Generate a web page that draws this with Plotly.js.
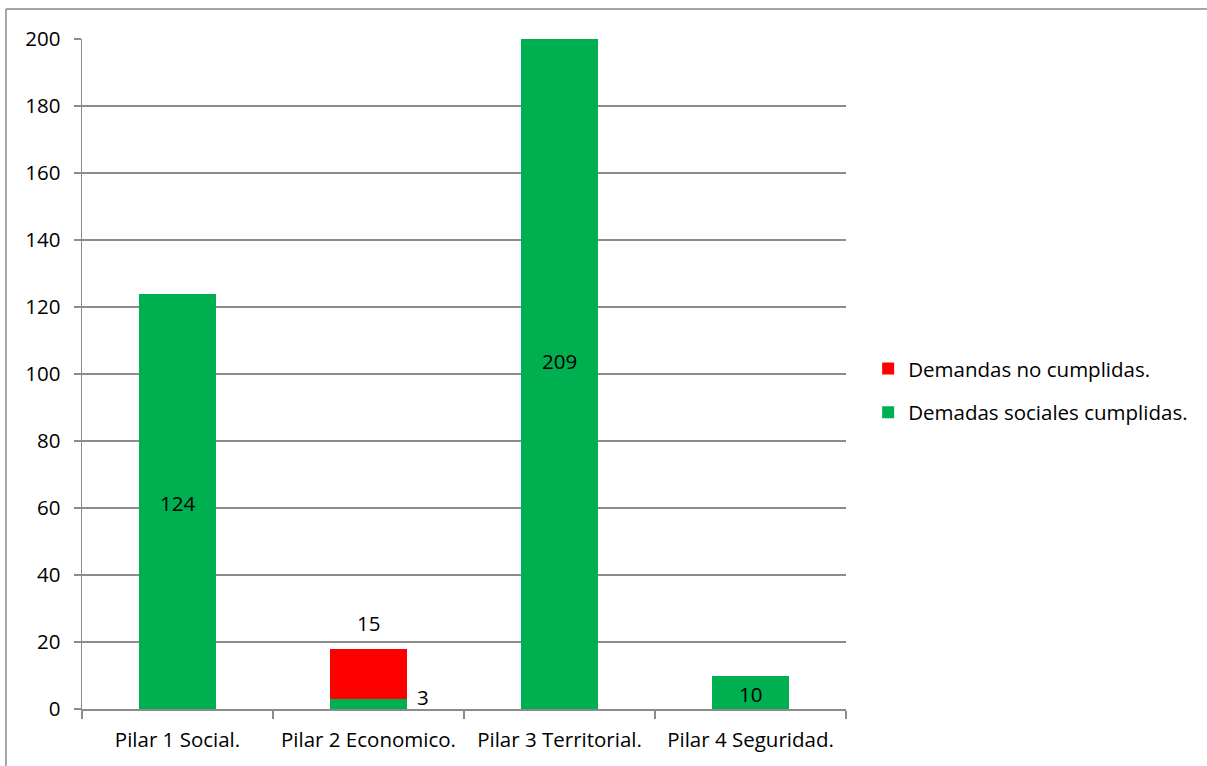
<!DOCTYPE html>
<html><head><meta charset="utf-8">
<script src="https://cdn.plot.ly/plotly-3.0.1.min.js"></script>
<style>html,body{margin:0;padding:0;background:#fff}#c{width:1207px;height:766px}</style>
</head><body><div id="c"></div>
<script>
const categories = ["Pilar 1 Social.", "Pilar 2 Economico.", "Pilar 3 Territorial.", "Pilar 4 Seguridad."];
const cumplidas = [124, 3, 209, 10];
const noCumplidas = [0, 15, 0, 0];
const yTicks = [0, 20, 40, 60, 80, 100, 120, 140, 160, 180, 200];

const font = {family: "'Open Sans', 'Noto Sans', sans-serif", size: 20.5, color: "#000"};
const grid = "#8c8c8c";

const traces = [
  {type: "bar", name: "Demadas sociales cumplidas.", x: categories, y: cumplidas, legendgroup: "a", legendrank: 2,
   marker: {color: "#00b050"}, width: 0.4, hoverinfo: "none"},
  {type: "bar", name: "Demandas no cumplidas.", x: categories, y: noCumplidas, legendgroup: "b", legendrank: 1,
   marker: {color: "#ff0000"}, width: 0.4, hoverinfo: "none"}
];

const annotations = [];
categories.forEach((c, i) => {
  if (cumplidas[i] > 0) {
    if (cumplidas[i] < 5) {
      annotations.push({x: c, y: cumplidas[i] / 2, text: String(cumplidas[i]), showarrow: false,
        xref: "x", yref: "y", xshift: 54, yshift: 7, font: font});
    } else {
      annotations.push({x: c, y: cumplidas[i] / 2, text: String(cumplidas[i]), showarrow: false,
        xref: "x", yref: "y", yshift: -2, font: font});
    }
  }
  if (noCumplidas[i] > 0) {
    annotations.push({x: c, y: cumplidas[i] + noCumplidas[i], text: String(noCumplidas[i]), showarrow: false,
      xref: "x", yref: "y", yshift: 26, font: font});
  }
});

const layout = {
  width: 1207, height: 766,
  margin: {l: 82, r: 361, t: 39, b: 57, autoexpand: false},
  barmode: "stack",
  paper_bgcolor: "#fff", plot_bgcolor: "#fff",
  font: font,
  showlegend: true,
  legend: {x: 1.029, y: 0.475, xanchor: "left", yanchor: "middle", font: font,
    traceorder: "grouped", tracegroupgap: 14, itemwidth: 30},
  xaxis: {type: "category", showline: true, linecolor: grid, linewidth: 1.5, automargin: false, tickangle: 0,
    ticks: "outside", tickson: "boundaries", ticklen: 8, tickcolor: grid, tickwidth: 1.5,
    showgrid: false, zeroline: false, tickfont: font, ticklabelstandoff: 12},
  yaxis: {range: [0, 200], tickvals: yTicks, showline: true, linecolor: grid, linewidth: 1.5, automargin: false,
    ticks: "outside", ticklen: 7, tickcolor: grid, tickwidth: 1.5,
    showgrid: true, gridcolor: grid, gridwidth: 1.5, zeroline: false, tickfont: font, ticklabelstandoff: 9},
  annotations: annotations,
  shapes: [
    {type: "line", xref: "paper", yref: "paper", x0: -0.0995, x1: -0.0995, y0: -0.2, y1: 1.0448,
     line: {color: "#8a8a8a", width: 1.5}},
    {type: "line", xref: "paper", yref: "paper", x0: -0.0995, x1: 1.6, y0: 1.0448, y1: 1.0448,
     line: {color: "#8a8a8a", width: 1.5}}
  ]
};

Plotly.newPlot("c", traces, layout, {displayModeBar: false, staticPlot: true});
</script></body></html>
